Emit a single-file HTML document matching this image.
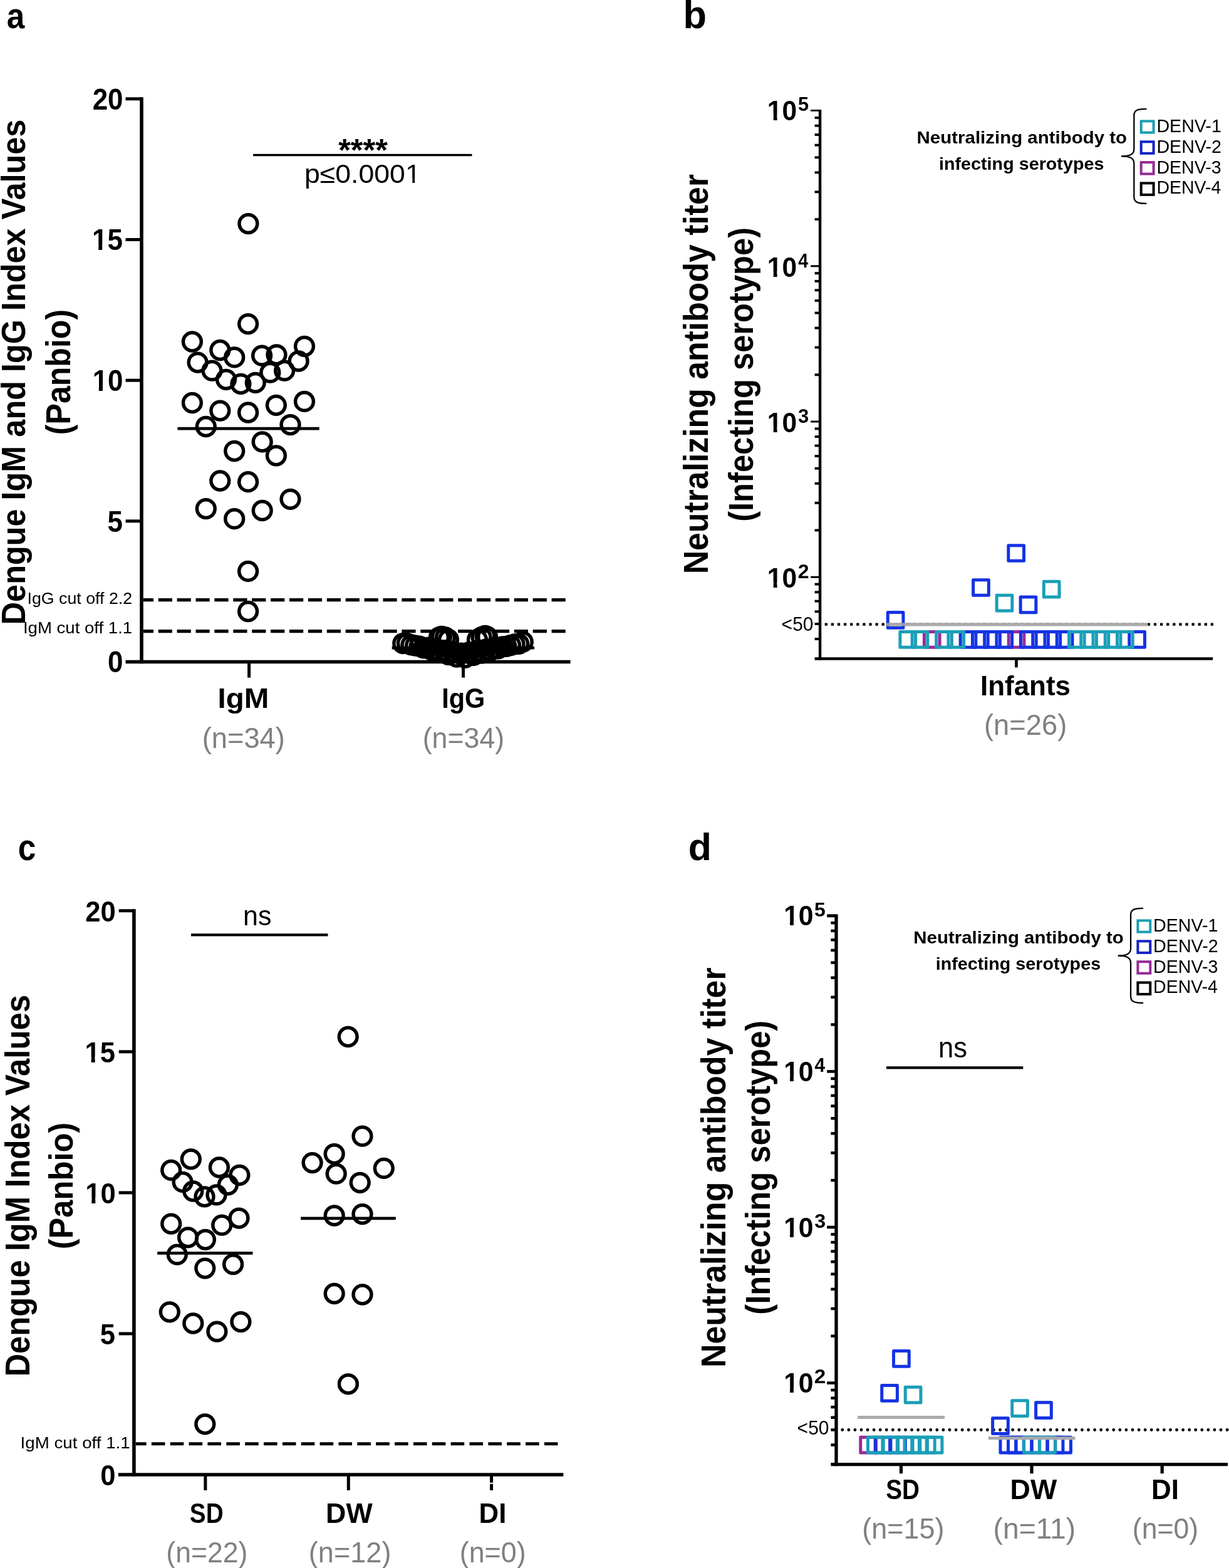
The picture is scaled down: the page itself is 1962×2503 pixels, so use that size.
<!DOCTYPE html>
<html lang="en">
<head>
<meta charset="utf-8">
<title>Dengue IgM, IgG index values and neutralizing antibody titers</title>
<style>
html, body { margin: 0; padding: 0; background: #fff; }
body { width: 1962px; height: 2503px; }
svg { display: block; }
svg text { font-family: "Liberation Sans", sans-serif; white-space: pre; }
</style>
</head>
<body>
<svg width="1962" height="2503" viewBox="0 0 1962 2503">
<rect width="1962" height="2503" fill="#fff"/>
<defs>
<clipPath id="one0"><rect x="-500" y="-500" width="3500" height="490.52"/><rect x="-500" y="-500" width="501.42" height="1000"/><rect x="11.02" y="-500" width="6.54" height="1000"/><rect x="26.54" y="-500" width="3000" height="1000"/></clipPath>
<clipPath id="one1"><rect x="-500" y="-500" width="3500" height="490.52"/><rect x="-500" y="-500" width="501.42" height="1000"/><rect x="11.02" y="-500" width="6.54" height="1000"/><rect x="26.54" y="-500" width="3000" height="1000"/></clipPath>
<clipPath id="one2"><rect x="-500" y="-500" width="3500" height="491.63"/><rect x="-500" y="-500" width="652.67" height="1000"/><rect x="161.57" y="-500" width="3.68" height="1000"/><rect x="173.60" y="-500" width="3000" height="1000"/></clipPath>
<clipPath id="one3"><rect x="-500" y="-500" width="3500" height="491.09"/><rect x="-500" y="-500" width="501.34" height="1000"/><rect x="10.36" y="-500" width="6.15" height="1000"/><rect x="24.96" y="-500" width="3000" height="1000"/></clipPath>
<clipPath id="one4"><rect x="-500" y="-500" width="3500" height="490.60"/><rect x="-500" y="-500" width="501.41" height="1000"/><rect x="10.93" y="-500" width="6.49" height="1000"/><rect x="26.32" y="-500" width="3000" height="1000"/></clipPath>
<clipPath id="one5"><rect x="-500" y="-500" width="3500" height="490.60"/><rect x="-500" y="-500" width="501.41" height="1000"/><rect x="10.93" y="-500" width="6.49" height="1000"/><rect x="26.32" y="-500" width="3000" height="1000"/></clipPath>
</defs>
<g id="panel-a">
<text transform="translate(10.76 45.40) scale(0.8998 1)" font-size="57.04" font-weight="bold">a</text>
<text transform="translate(40.10 997.28) rotate(-90) scale(0.9304 1)" font-size="54.20" font-weight="bold">Dengue IgM and IgG Index Values</text>
<text transform="translate(111.70 694.21) rotate(-90) scale(0.9026 1)" font-size="55.51" font-weight="bold">(Panbio)</text>
<line x1="226.00" y1="155.30" x2="226.00" y2="1059.30" stroke="#000" stroke-width="5.6"/>
<line x1="200.50" y1="1056.50" x2="910.60" y2="1056.50" stroke="#000" stroke-width="5.6"/>
<line x1="200.50" y1="831.83" x2="226.00" y2="831.83" stroke="#000" stroke-width="5"/>
<line x1="200.50" y1="607.15" x2="226.00" y2="607.15" stroke="#000" stroke-width="5"/>
<line x1="200.50" y1="382.48" x2="226.00" y2="382.48" stroke="#000" stroke-width="5"/>
<line x1="200.50" y1="157.80" x2="226.00" y2="157.80" stroke="#000" stroke-width="5"/>
<text transform="translate(172.05 1073.30) scale(0.9280 1)" font-size="47.40" font-weight="bold">0</text>
<text transform="translate(171.39 848.62) scale(0.9280 1)" font-size="47.40" font-weight="bold">5</text>
<text transform="translate(147.63 623.95) scale(0.9280 1)" font-size="47.40" font-weight="bold" clip-path="url(#one0)">10</text>
<text transform="translate(146.97 399.28) scale(0.9280 1)" font-size="47.40" font-weight="bold" clip-path="url(#one1)">15</text>
<text transform="translate(147.63 174.60) scale(0.9280 1)" font-size="47.40" font-weight="bold">20</text>
<line x1="397.60" y1="1056.50" x2="397.60" y2="1081.70" stroke="#000" stroke-width="5"/>
<line x1="739.60" y1="1056.50" x2="739.60" y2="1081.70" stroke="#000" stroke-width="5"/>
<line x1="229.00" y1="957.60" x2="903.00" y2="957.60" stroke="#000" stroke-width="5.1" stroke-dasharray="22.2 7.7" stroke-dashoffset="6.2"/>
<line x1="229.00" y1="1007.60" x2="903.00" y2="1007.60" stroke="#000" stroke-width="5.1" stroke-dasharray="22.2 7.7" stroke-dashoffset="6.2"/>
<text transform="translate(43.49 963.50) scale(1.0618 1)" font-size="25.22">IgG cut off 2.2</text>
<text transform="translate(36.92 1010.50) scale(1.0940 1)" font-size="25.22">IgM cut off 1.1</text>
<line x1="404.10" y1="247.50" x2="753.50" y2="247.50" stroke="#000" stroke-width="3.4"/>
<text transform="translate(540.15 256.51) scale(1.0184 1)" font-size="49.73" font-weight="bold">****</text>
<text transform="translate(486.00 292.40) scale(1.0661 1)" font-size="41.86" clip-path="url(#one2)">p≤0.0001</text>
<line x1="283.40" y1="684.20" x2="509.70" y2="684.20" stroke="#000" stroke-width="4.7"/>
<line x1="625.70" y1="1034.20" x2="853.00" y2="1034.20" stroke="#000" stroke-width="4.7"/>
<g fill="none" stroke="#000" stroke-width="5.5">
<circle cx="396.4" cy="357.1" r="14.4"/>
<circle cx="396.1" cy="517.1" r="14.4"/>
<circle cx="306.9" cy="545.5" r="14.4"/>
<circle cx="351.3" cy="559.0" r="14.4"/>
<circle cx="374.2" cy="570.4" r="14.4"/>
<circle cx="418.1" cy="567.7" r="14.4"/>
<circle cx="441.5" cy="566.3" r="14.4"/>
<circle cx="486.0" cy="552.8" r="14.4"/>
<circle cx="476.6" cy="576.5" r="14.4"/>
<circle cx="315.6" cy="578.6" r="14.4"/>
<circle cx="338.5" cy="591.7" r="14.4"/>
<circle cx="361.0" cy="605.8" r="14.4"/>
<circle cx="384.4" cy="612.8" r="14.4"/>
<circle cx="407.8" cy="610.8" r="14.4"/>
<circle cx="431.3" cy="594.7" r="14.4"/>
<circle cx="454.1" cy="591.7" r="14.4"/>
<circle cx="306.9" cy="643.0" r="14.4"/>
<circle cx="351.3" cy="655.6" r="14.4"/>
<circle cx="396.1" cy="658.5" r="14.4"/>
<circle cx="440.9" cy="646.8" r="14.4"/>
<circle cx="486.0" cy="640.9" r="14.4"/>
<circle cx="328.8" cy="681.0" r="14.4"/>
<circle cx="463.5" cy="678.1" r="14.4"/>
<circle cx="418.7" cy="705.3" r="14.4"/>
<circle cx="374.2" cy="720.0" r="14.4"/>
<circle cx="440.9" cy="727.3" r="14.4"/>
<circle cx="351.3" cy="767.5" r="14.4"/>
<circle cx="396.1" cy="769.2" r="14.4"/>
<circle cx="463.5" cy="796.8" r="14.4"/>
<circle cx="328.8" cy="812.1" r="14.4"/>
<circle cx="418.7" cy="815.0" r="14.4"/>
<circle cx="374.2" cy="828.2" r="14.4"/>
<circle cx="396.1" cy="911.9" r="14.4"/>
<circle cx="396.1" cy="976.0" r="14.4"/>
<path d="M668 1032 L737.5 1046 L810 1032" stroke-width="18" stroke-linecap="round" stroke-linejoin="round"/>
<circle cx="643.3" cy="1027.2" r="14.4"/>
<circle cx="649.9" cy="1027.1" r="14.4"/>
<circle cx="656.5" cy="1029.4" r="14.4"/>
<circle cx="663.1" cy="1030.7" r="14.4"/>
<circle cx="669.7" cy="1031.6" r="14.4"/>
<circle cx="676.3" cy="1034.3" r="14.4"/>
<circle cx="682.9" cy="1033.8" r="14.4"/>
<circle cx="689.5" cy="1037.9" r="14.4"/>
<circle cx="696.1" cy="1036.0" r="14.4"/>
<circle cx="702.7" cy="1041.5" r="14.4"/>
<circle cx="709.3" cy="1038.2" r="14.4"/>
<circle cx="715.9" cy="1045.1" r="14.4"/>
<circle cx="722.5" cy="1040.5" r="14.4"/>
<circle cx="729.1" cy="1048.7" r="14.4"/>
<circle cx="735.7" cy="1042.7" r="14.4"/>
<circle cx="742.4" cy="1049.8" r="14.4"/>
<circle cx="749.0" cy="1041.1" r="14.4"/>
<circle cx="755.6" cy="1046.2" r="14.4"/>
<circle cx="762.2" cy="1038.9" r="14.4"/>
<circle cx="768.8" cy="1042.6" r="14.4"/>
<circle cx="775.4" cy="1036.7" r="14.4"/>
<circle cx="782.0" cy="1039.0" r="14.4"/>
<circle cx="788.6" cy="1034.5" r="14.4"/>
<circle cx="795.2" cy="1035.4" r="14.4"/>
<circle cx="801.8" cy="1032.3" r="14.4"/>
<circle cx="808.4" cy="1031.8" r="14.4"/>
<circle cx="815.0" cy="1030.1" r="14.4"/>
<circle cx="821.6" cy="1028.3" r="14.4"/>
<circle cx="828.2" cy="1027.9" r="14.4"/>
<circle cx="834.8" cy="1024.7" r="14.4"/>
<circle cx="701.0" cy="1017.5" r="14.4"/>
<circle cx="705.0" cy="1016.0" r="14.4"/>
<circle cx="711.0" cy="1017.5" r="14.4"/>
<circle cx="716.0" cy="1021.0" r="14.4"/>
<circle cx="762.0" cy="1021.0" r="14.4"/>
<circle cx="768.5" cy="1017.0" r="14.4"/>
<circle cx="774.5" cy="1015.0" r="14.4"/>
<circle cx="778.0" cy="1016.5" r="14.4"/>
</g>
<text transform="translate(347.51 1130.10) scale(1.0569 1)" font-size="44.93" font-weight="bold">IgM</text>
<text transform="translate(705.20 1130.40) scale(0.9236 1)" font-size="44.93" font-weight="bold">IgG</text>
<text transform="translate(322.79 1193.60) scale(0.9801 1)" font-size="46.14" fill="#808080">(n=34)</text>
<text transform="translate(674.72 1193.60) scale(0.9692 1)" font-size="46.14" fill="#808080">(n=34)</text>
</g>
<g id="panel-b">
<text transform="translate(1090.51 44.50) scale(0.9781 1)" font-size="62.76" font-weight="bold">b</text>
<text transform="translate(1130.40 916.36) rotate(-90) scale(0.9400 1)" font-size="55.07" font-weight="bold">Neutralizing antibody titer</text>
<text transform="translate(1201.90 832.83) rotate(-90) scale(0.9198 1)" font-size="55.07" font-weight="bold">(Infecting serotype)</text>
<line x1="1309.10" y1="175.00" x2="1309.10" y2="1053.70" stroke="#000" stroke-width="4.4"/>
<line x1="1300.60" y1="1051.50" x2="1936.20" y2="1051.50" stroke="#000" stroke-width="4.4"/>
<line x1="1294.20" y1="921.20" x2="1309.10" y2="921.20" stroke="#000" stroke-width="3.0"/>
<text transform="translate(1224.83 938.00) scale(0.9555 1)" font-size="44.57" font-weight="bold" clip-path="url(#one3)">10</text>
<text transform="translate(1273.68 923.20) scale(1.0208 1)" font-size="31.43" font-weight="bold">2</text>
<line x1="1294.20" y1="673.00" x2="1309.10" y2="673.00" stroke="#000" stroke-width="3.0"/>
<text transform="translate(1224.83 689.80) scale(0.9555 1)" font-size="44.57" font-weight="bold" clip-path="url(#one3)">10</text>
<text transform="translate(1274.02 675.00) scale(0.9899 1)" font-size="31.43" font-weight="bold">3</text>
<line x1="1294.20" y1="424.80" x2="1309.10" y2="424.80" stroke="#000" stroke-width="3.0"/>
<text transform="translate(1224.83 441.70) scale(0.9555 1)" font-size="44.57" font-weight="bold" clip-path="url(#one3)">10</text>
<text transform="translate(1274.37 426.90) scale(0.9028 1)" font-size="31.88" font-weight="bold">4</text>
<rect x="1294.20" y="175.00" width="14.90" height="2.80"/>
<text transform="translate(1224.83 191.80) scale(0.9555 1)" font-size="44.57" font-weight="bold" clip-path="url(#one3)">10</text>
<text transform="translate(1273.88 177.00) scale(0.9660 1)" font-size="31.88" font-weight="bold">5</text>
<line x1="1300.60" y1="1019.97" x2="1309.10" y2="1019.97" stroke="#000" stroke-width="3.9"/>
<line x1="1300.60" y1="995.92" x2="1309.10" y2="995.92" stroke="#000" stroke-width="3.9"/>
<line x1="1300.60" y1="976.26" x2="1309.10" y2="976.26" stroke="#000" stroke-width="3.9"/>
<line x1="1300.60" y1="959.65" x2="1309.10" y2="959.65" stroke="#000" stroke-width="3.9"/>
<line x1="1300.60" y1="945.25" x2="1309.10" y2="945.25" stroke="#000" stroke-width="3.9"/>
<line x1="1300.60" y1="932.56" x2="1309.10" y2="932.56" stroke="#000" stroke-width="3.9"/>
<line x1="1300.60" y1="846.48" x2="1309.10" y2="846.48" stroke="#000" stroke-width="3.9"/>
<line x1="1300.60" y1="802.78" x2="1309.10" y2="802.78" stroke="#000" stroke-width="3.9"/>
<line x1="1300.60" y1="771.77" x2="1309.10" y2="771.77" stroke="#000" stroke-width="3.9"/>
<line x1="1300.60" y1="747.72" x2="1309.10" y2="747.72" stroke="#000" stroke-width="3.9"/>
<line x1="1300.60" y1="728.06" x2="1309.10" y2="728.06" stroke="#000" stroke-width="3.9"/>
<line x1="1300.60" y1="711.45" x2="1309.10" y2="711.45" stroke="#000" stroke-width="3.9"/>
<line x1="1300.60" y1="697.05" x2="1309.10" y2="697.05" stroke="#000" stroke-width="3.9"/>
<line x1="1300.60" y1="684.36" x2="1309.10" y2="684.36" stroke="#000" stroke-width="3.9"/>
<line x1="1300.60" y1="598.28" x2="1309.10" y2="598.28" stroke="#000" stroke-width="3.9"/>
<line x1="1300.60" y1="554.58" x2="1309.10" y2="554.58" stroke="#000" stroke-width="3.9"/>
<line x1="1300.60" y1="523.57" x2="1309.10" y2="523.57" stroke="#000" stroke-width="3.9"/>
<line x1="1300.60" y1="499.52" x2="1309.10" y2="499.52" stroke="#000" stroke-width="3.9"/>
<line x1="1300.60" y1="479.86" x2="1309.10" y2="479.86" stroke="#000" stroke-width="3.9"/>
<line x1="1300.60" y1="463.25" x2="1309.10" y2="463.25" stroke="#000" stroke-width="3.9"/>
<line x1="1300.60" y1="448.85" x2="1309.10" y2="448.85" stroke="#000" stroke-width="3.9"/>
<line x1="1300.60" y1="436.16" x2="1309.10" y2="436.16" stroke="#000" stroke-width="3.9"/>
<line x1="1300.60" y1="350.08" x2="1309.10" y2="350.08" stroke="#000" stroke-width="3.9"/>
<line x1="1300.60" y1="306.38" x2="1309.10" y2="306.38" stroke="#000" stroke-width="3.9"/>
<line x1="1300.60" y1="275.37" x2="1309.10" y2="275.37" stroke="#000" stroke-width="3.9"/>
<line x1="1300.60" y1="251.32" x2="1309.10" y2="251.32" stroke="#000" stroke-width="3.9"/>
<line x1="1300.60" y1="231.66" x2="1309.10" y2="231.66" stroke="#000" stroke-width="3.9"/>
<line x1="1300.60" y1="215.05" x2="1309.10" y2="215.05" stroke="#000" stroke-width="3.9"/>
<line x1="1300.60" y1="200.65" x2="1309.10" y2="200.65" stroke="#000" stroke-width="3.9"/>
<line x1="1300.60" y1="187.96" x2="1309.10" y2="187.96" stroke="#000" stroke-width="3.9"/>
<line x1="1622.50" y1="1051.50" x2="1622.50" y2="1065.40" stroke="#000" stroke-width="4.6"/>
<text transform="translate(1247.60 1007.00) scale(0.9869 1)" font-size="30.43">&lt;50</text>
<line x1="1316.70" y1="996.60" x2="1937.00" y2="996.60" stroke="#000" stroke-width="4.2" stroke-dasharray="4.3 5.8"/>
<g fill="none" stroke-width="5.0" stroke-linejoin="round">
<rect x="1475.42" y="1008.45" width="24.70" height="24.70" stroke="#9a2a9c"/>
<rect x="1610.22" y="1008.45" width="24.70" height="24.70" stroke="#9a2a9c"/>
<rect x="1533.19" y="1008.45" width="24.70" height="24.70" stroke="#1533e2"/>
<rect x="1552.45" y="1008.45" width="24.70" height="24.70" stroke="#1533e2"/>
<rect x="1571.71" y="1008.45" width="24.70" height="24.70" stroke="#1533e2"/>
<rect x="1590.96" y="1008.45" width="24.70" height="24.70" stroke="#1533e2"/>
<rect x="1629.48" y="1008.45" width="24.70" height="24.70" stroke="#1533e2"/>
<rect x="1648.74" y="1008.45" width="24.70" height="24.70" stroke="#1533e2"/>
<rect x="1667.99" y="1008.45" width="24.70" height="24.70" stroke="#1533e2"/>
<rect x="1687.25" y="1008.45" width="24.70" height="24.70" stroke="#1533e2"/>
<rect x="1802.80" y="1008.45" width="24.70" height="24.70" stroke="#1533e2"/>
<rect x="1436.90" y="1008.45" width="24.70" height="24.70" stroke="#1a9fb8"/>
<rect x="1456.16" y="1008.45" width="24.70" height="24.70" stroke="#1a9fb8"/>
<rect x="1494.67" y="1008.45" width="24.70" height="24.70" stroke="#1a9fb8"/>
<rect x="1513.93" y="1008.45" width="24.70" height="24.70" stroke="#1a9fb8"/>
<rect x="1706.51" y="1008.45" width="24.70" height="24.70" stroke="#1a9fb8"/>
<rect x="1725.77" y="1008.45" width="24.70" height="24.70" stroke="#1a9fb8"/>
<rect x="1745.03" y="1008.45" width="24.70" height="24.70" stroke="#1a9fb8"/>
<rect x="1764.28" y="1008.45" width="24.70" height="24.70" stroke="#1a9fb8"/>
<rect x="1783.54" y="1008.45" width="24.70" height="24.70" stroke="#1a9fb8"/>
</g>
<line x1="1414.60" y1="996.90" x2="1832.30" y2="996.90" stroke="#aaaaaa" stroke-width="5.2"/>
<g fill="none" stroke-width="5.0" stroke-linejoin="round">
<rect x="1609.85" y="870.65" width="24.70" height="24.70" stroke="#1533e2"/>
<rect x="1553.65" y="925.65" width="24.70" height="24.70" stroke="#1533e2"/>
<rect x="1591.15" y="950.35" width="24.70" height="24.70" stroke="#1a9fb8"/>
<rect x="1629.15" y="952.95" width="24.70" height="24.70" stroke="#1533e2"/>
<rect x="1666.35" y="928.35" width="24.70" height="24.70" stroke="#1a9fb8"/>
</g>
<g fill="none" stroke-width="5.0" stroke-linejoin="round"><rect x="1417.25" y="977.55" width="24.70" height="24.70" stroke="#1533e2"/></g>
<line x1="1414.60" y1="996.90" x2="1446.00" y2="996.90" stroke="#aaaaaa" stroke-width="5.2" opacity="0.85"/>
<text transform="translate(1564.94 1110.10) scale(0.9788 1)" font-size="44.93" font-weight="bold">Infants</text>
<text transform="translate(1570.98 1172.70) scale(0.9824 1)" font-size="46.14" fill="#808080">(n=26)</text>
<g transform="translate(0.0 0.0)">
<text transform="translate(1463.58 228.80) scale(1.0479 1)" font-size="28.12" font-weight="bold">Neutralizing antibody to</text>
<text transform="translate(1498.99 270.70) scale(1.0220 1)" font-size="28.12" font-weight="bold">infecting serotypes</text>
</g>
<g transform="translate(0.0 0.0)">
<path d="M1830.4 173.8 C1818 173.8 1810.4 175 1810.4 184 L1810.4 238 C1810.4 247 1803 249.4 1790 249.4 C1803 249.4 1810.4 252 1810.4 261 L1810.4 314.6 C1810.4 323.6 1818 324.9 1830.4 324.9" fill="none" stroke="#000" stroke-width="2.3"/>
<rect x="1821.70" y="193.40" width="19.90" height="18.20" fill="none" stroke="#1b9db3" stroke-width="4.0"/>
<text transform="translate(1846.41 211.00) scale(0.9546 1)" font-size="30.00">DENV-1</text>
<rect x="1821.70" y="226.30" width="19.90" height="18.50" fill="none" stroke="#1322c4" stroke-width="4.0"/>
<text transform="translate(1846.41 244.00) scale(0.9559 1)" font-size="30.00">DENV-2</text>
<rect x="1821.70" y="259.10" width="19.90" height="18.50" fill="none" stroke="#942b96" stroke-width="4.0"/>
<text transform="translate(1846.41 277.30) scale(0.9532 1)" font-size="30.00">DENV-3</text>
<rect x="1821.70" y="292.40" width="19.90" height="18.50" fill="none" stroke="#000" stroke-width="4.0"/>
<text transform="translate(1846.42 309.10) scale(0.9491 1)" font-size="30.00">DENV-4</text>
</g>
</g>
<g id="panel-c">
<text transform="translate(28.65 1373.20) scale(0.8773 1)" font-size="58.52" font-weight="bold">c</text>
<text transform="translate(47.20 2197.60) rotate(-90) scale(0.9222 1)" font-size="55.07" font-weight="bold">Dengue IgM Index Values</text>
<text transform="translate(116.30 1994.33) rotate(-90) scale(0.9449 1)" font-size="53.62" font-weight="bold">(Panbio)</text>
<line x1="213.90" y1="1451.30" x2="213.90" y2="2356.80" stroke="#000" stroke-width="5.6"/>
<line x1="188.80" y1="2354.00" x2="899.40" y2="2354.00" stroke="#000" stroke-width="5.6"/>
<line x1="189.70" y1="2128.95" x2="213.90" y2="2128.95" stroke="#000" stroke-width="5"/>
<line x1="189.70" y1="1903.90" x2="213.90" y2="1903.90" stroke="#000" stroke-width="5"/>
<line x1="189.70" y1="1678.85" x2="213.90" y2="1678.85" stroke="#000" stroke-width="5"/>
<line x1="189.70" y1="1453.80" x2="213.90" y2="1453.80" stroke="#000" stroke-width="5"/>
<text transform="translate(160.34 2370.90) scale(0.9280 1)" font-size="47.00" font-weight="bold">0</text>
<text transform="translate(159.68 2145.85) scale(0.9280 1)" font-size="47.00" font-weight="bold">5</text>
<text transform="translate(136.13 1920.80) scale(0.9280 1)" font-size="47.00" font-weight="bold" clip-path="url(#one4)">10</text>
<text transform="translate(135.48 1695.75) scale(0.9280 1)" font-size="47.00" font-weight="bold" clip-path="url(#one5)">15</text>
<text transform="translate(136.13 1470.70) scale(0.9280 1)" font-size="47.00" font-weight="bold">20</text>
<line x1="327.90" y1="2354.00" x2="327.90" y2="2379.00" stroke="#000" stroke-width="5"/>
<line x1="556.30" y1="2354.00" x2="556.30" y2="2379.00" stroke="#000" stroke-width="5"/>
<line x1="784.60" y1="2354.00" x2="784.60" y2="2379.00" stroke="#000" stroke-width="5"/>
<rect x="781.5" y="2366.6" width="6.2" height="2.4" fill="#fff" opacity="0.85"/>
<line x1="216.90" y1="2304.80" x2="891.20" y2="2304.80" stroke="#000" stroke-width="5.1" stroke-dasharray="21.6 8.26" stroke-dashoffset="4.9"/>
<text transform="translate(32.61 2311.60) scale(1.0509 1)" font-size="26.38">IgM cut off 1.1</text>
<line x1="305.00" y1="1492.30" x2="523.50" y2="1492.30" stroke="#000" stroke-width="4.2"/>
<text transform="translate(388.01 1476.50) scale(0.9540 1)" font-size="45.00">ns</text>
<line x1="251.20" y1="2000.40" x2="403.50" y2="2000.40" stroke="#000" stroke-width="4.7"/>
<line x1="480.20" y1="1944.80" x2="631.80" y2="1944.80" stroke="#000" stroke-width="4.7"/>
<g fill="none" stroke="#000" stroke-width="5.5">
<circle cx="304.8" cy="1850.3" r="14.4"/>
<circle cx="273.2" cy="1867.9" r="14.4"/>
<circle cx="349.9" cy="1863.5" r="14.4"/>
<circle cx="382.4" cy="1875.8" r="14.4"/>
<circle cx="291.6" cy="1886.9" r="14.4"/>
<circle cx="363.9" cy="1891.3" r="14.4"/>
<circle cx="308.3" cy="1901.5" r="14.4"/>
<circle cx="326.5" cy="1910.3" r="14.4"/>
<circle cx="345.5" cy="1907.4" r="14.4"/>
<circle cx="273.2" cy="1953.6" r="14.4"/>
<circle cx="381.5" cy="1944.6" r="14.4"/>
<circle cx="354.2" cy="1955.7" r="14.4"/>
<circle cx="300.1" cy="1975.3" r="14.4"/>
<circle cx="327.9" cy="1978.8" r="14.4"/>
<circle cx="282.8" cy="2002.7" r="14.4"/>
<circle cx="327.3" cy="2024.6" r="14.4"/>
<circle cx="372.1" cy="2018.2" r="14.4"/>
<circle cx="270.8" cy="2094.3" r="14.4"/>
<circle cx="308.3" cy="2112.5" r="14.4"/>
<circle cx="346.4" cy="2125.6" r="14.4"/>
<circle cx="384.4" cy="2110.1" r="14.4"/>
<circle cx="327.3" cy="2273.3" r="14.4"/>
<circle cx="555.7" cy="1655.0" r="14.4"/>
<circle cx="578.5" cy="1813.7" r="14.4"/>
<circle cx="533.7" cy="1842.1" r="14.4"/>
<circle cx="498.6" cy="1856.1" r="14.4"/>
<circle cx="612.8" cy="1864.9" r="14.4"/>
<circle cx="536.7" cy="1873.7" r="14.4"/>
<circle cx="574.7" cy="1887.8" r="14.4"/>
<circle cx="533.7" cy="1940.5" r="14.4"/>
<circle cx="578.5" cy="1938.1" r="14.4"/>
<circle cx="533.7" cy="2065.0" r="14.4"/>
<circle cx="578.5" cy="2066.5" r="14.4"/>
<circle cx="555.9" cy="2209.3" r="14.4"/>
</g>
<text transform="translate(302.84 2431.20) scale(0.8615 1)" font-size="44.93" font-weight="bold">SD</text>
<text transform="translate(520.09 2431.20) scale(0.9974 1)" font-size="44.93" font-weight="bold">DW</text>
<text transform="translate(764.55 2431.20) scale(0.9747 1)" font-size="44.93" font-weight="bold">DI</text>
<text transform="translate(265.33 2494.20) scale(0.9661 1)" font-size="46.14" fill="#808080">(n=22)</text>
<text transform="translate(492.79 2494.20) scale(0.9778 1)" font-size="46.14" fill="#808080">(n=12)</text>
<text transform="translate(733.71 2494.20) scale(0.9714 1)" font-size="46.14" fill="#808080">(n=0)</text>
</g>
<g id="panel-d">
<text transform="translate(1098.76 1373.20) scale(0.9870 1)" font-size="61.79" font-weight="bold">d</text>
<text transform="translate(1157.50 2182.97) rotate(-90) scale(0.9403 1)" font-size="55.07" font-weight="bold">Neutralizing antibody titer</text>
<text transform="translate(1228.80 2098.63) rotate(-90) scale(0.9198 1)" font-size="55.07" font-weight="bold">(Infecting serotype)</text>
<line x1="1335.00" y1="1459.40" x2="1335.00" y2="2340.35" stroke="#000" stroke-width="5.3"/>
<line x1="1326.40" y1="2337.70" x2="1960.00" y2="2337.70" stroke="#000" stroke-width="5.3"/>
<line x1="1320.20" y1="2207.60" x2="1335.00" y2="2207.60" stroke="#000" stroke-width="4.6"/>
<text transform="translate(1251.13 2223.10) scale(0.9577 1)" font-size="44.57" font-weight="bold" clip-path="url(#one3)">10</text>
<text transform="translate(1299.83 2208.30) scale(1.0606 1)" font-size="31.43" font-weight="bold">2</text>
<line x1="1320.20" y1="1959.00" x2="1335.00" y2="1959.00" stroke="#000" stroke-width="4.6"/>
<text transform="translate(1251.13 1974.50) scale(0.9577 1)" font-size="44.57" font-weight="bold" clip-path="url(#one3)">10</text>
<text transform="translate(1300.19 1959.70) scale(1.0285 1)" font-size="31.43" font-weight="bold">3</text>
<line x1="1320.20" y1="1710.40" x2="1335.00" y2="1710.40" stroke="#000" stroke-width="4.6"/>
<text transform="translate(1251.13 1725.90) scale(0.9577 1)" font-size="44.57" font-weight="bold" clip-path="url(#one3)">10</text>
<text transform="translate(1300.55 1711.10) scale(0.9380 1)" font-size="31.88" font-weight="bold">4</text>
<rect x="1320.20" y="1459.40" width="14.80" height="4.90"/>
<text transform="translate(1251.13 1477.30) scale(0.9577 1)" font-size="44.57" font-weight="bold" clip-path="url(#one3)">10</text>
<text transform="translate(1300.04 1462.50) scale(1.0036 1)" font-size="31.88" font-weight="bold">5</text>
<line x1="1326.40" y1="2306.53" x2="1335.00" y2="2306.53" stroke="#000" stroke-width="4.5"/>
<line x1="1326.40" y1="2282.44" x2="1335.00" y2="2282.44" stroke="#000" stroke-width="4.5"/>
<line x1="1326.40" y1="2262.75" x2="1335.00" y2="2262.75" stroke="#000" stroke-width="4.5"/>
<line x1="1326.40" y1="2246.11" x2="1335.00" y2="2246.11" stroke="#000" stroke-width="4.5"/>
<line x1="1326.40" y1="2231.69" x2="1335.00" y2="2231.69" stroke="#000" stroke-width="4.5"/>
<line x1="1326.40" y1="2218.98" x2="1335.00" y2="2218.98" stroke="#000" stroke-width="4.5"/>
<line x1="1326.40" y1="2132.76" x2="1335.00" y2="2132.76" stroke="#000" stroke-width="4.5"/>
<line x1="1326.40" y1="2088.99" x2="1335.00" y2="2088.99" stroke="#000" stroke-width="4.5"/>
<line x1="1326.40" y1="2057.93" x2="1335.00" y2="2057.93" stroke="#000" stroke-width="4.5"/>
<line x1="1326.40" y1="2033.84" x2="1335.00" y2="2033.84" stroke="#000" stroke-width="4.5"/>
<line x1="1326.40" y1="2014.15" x2="1335.00" y2="2014.15" stroke="#000" stroke-width="4.5"/>
<line x1="1326.40" y1="1997.51" x2="1335.00" y2="1997.51" stroke="#000" stroke-width="4.5"/>
<line x1="1326.40" y1="1983.09" x2="1335.00" y2="1983.09" stroke="#000" stroke-width="4.5"/>
<line x1="1326.40" y1="1970.38" x2="1335.00" y2="1970.38" stroke="#000" stroke-width="4.5"/>
<line x1="1326.40" y1="1884.16" x2="1335.00" y2="1884.16" stroke="#000" stroke-width="4.5"/>
<line x1="1326.40" y1="1840.39" x2="1335.00" y2="1840.39" stroke="#000" stroke-width="4.5"/>
<line x1="1326.40" y1="1809.33" x2="1335.00" y2="1809.33" stroke="#000" stroke-width="4.5"/>
<line x1="1326.40" y1="1785.24" x2="1335.00" y2="1785.24" stroke="#000" stroke-width="4.5"/>
<line x1="1326.40" y1="1765.55" x2="1335.00" y2="1765.55" stroke="#000" stroke-width="4.5"/>
<line x1="1326.40" y1="1748.91" x2="1335.00" y2="1748.91" stroke="#000" stroke-width="4.5"/>
<line x1="1326.40" y1="1734.49" x2="1335.00" y2="1734.49" stroke="#000" stroke-width="4.5"/>
<line x1="1326.40" y1="1721.78" x2="1335.00" y2="1721.78" stroke="#000" stroke-width="4.5"/>
<line x1="1326.40" y1="1635.56" x2="1335.00" y2="1635.56" stroke="#000" stroke-width="4.5"/>
<line x1="1326.40" y1="1591.79" x2="1335.00" y2="1591.79" stroke="#000" stroke-width="4.5"/>
<line x1="1326.40" y1="1560.73" x2="1335.00" y2="1560.73" stroke="#000" stroke-width="4.5"/>
<line x1="1326.40" y1="1536.64" x2="1335.00" y2="1536.64" stroke="#000" stroke-width="4.5"/>
<line x1="1326.40" y1="1516.95" x2="1335.00" y2="1516.95" stroke="#000" stroke-width="4.5"/>
<line x1="1326.40" y1="1500.31" x2="1335.00" y2="1500.31" stroke="#000" stroke-width="4.5"/>
<line x1="1326.40" y1="1485.89" x2="1335.00" y2="1485.89" stroke="#000" stroke-width="4.5"/>
<line x1="1326.40" y1="1473.18" x2="1335.00" y2="1473.18" stroke="#000" stroke-width="4.5"/>
<line x1="1438.50" y1="2337.70" x2="1438.50" y2="2352.20" stroke="#000" stroke-width="5.2"/>
<line x1="1647.00" y1="2337.70" x2="1647.00" y2="2352.20" stroke="#000" stroke-width="5.2"/>
<line x1="1855.20" y1="2337.70" x2="1855.20" y2="2352.20" stroke="#000" stroke-width="5.2"/>
<text transform="translate(1272.60 2289.70) scale(0.9823 1)" font-size="30.57">&lt;50</text>
<line x1="1344.80" y1="2282.50" x2="1962.00" y2="2282.50" stroke="#000" stroke-width="4.9" stroke-dasharray="0.01 10.06" stroke-linecap="round"/>
<line x1="1415.00" y1="1704.30" x2="1633.30" y2="1704.30" stroke="#000" stroke-width="4.2"/>
<text transform="translate(1498.07 1688.30) scale(0.9562 1)" font-size="45.56">ns</text>
<g fill="none" stroke-width="5.0" stroke-linejoin="round">
<rect x="1373.80" y="2294.35" width="24.70" height="24.70" stroke="#9a2a9c"/>
<rect x="1397.22" y="2294.35" width="24.70" height="24.70" stroke="#1533e2"/>
<rect x="1420.64" y="2294.35" width="24.70" height="24.70" stroke="#1533e2"/>
<rect x="1385.51" y="2294.35" width="24.70" height="24.70" stroke="#1a9fb8"/>
<rect x="1408.93" y="2294.35" width="24.70" height="24.70" stroke="#1a9fb8"/>
<rect x="1432.36" y="2294.35" width="24.70" height="24.70" stroke="#1a9fb8"/>
<rect x="1444.07" y="2294.35" width="24.70" height="24.70" stroke="#1a9fb8"/>
<rect x="1455.78" y="2294.35" width="24.70" height="24.70" stroke="#1a9fb8"/>
<rect x="1467.49" y="2294.35" width="24.70" height="24.70" stroke="#1a9fb8"/>
<rect x="1479.20" y="2294.35" width="24.70" height="24.70" stroke="#1a9fb8"/>
<rect x="1597.00" y="2294.35" width="24.70" height="24.70" stroke="#1533e2"/>
<rect x="1609.54" y="2294.35" width="24.70" height="24.70" stroke="#1533e2"/>
<rect x="1622.09" y="2294.35" width="24.70" height="24.70" stroke="#1533e2"/>
<rect x="1647.17" y="2294.35" width="24.70" height="24.70" stroke="#1533e2"/>
<rect x="1672.26" y="2294.35" width="24.70" height="24.70" stroke="#1533e2"/>
<rect x="1684.80" y="2294.35" width="24.70" height="24.70" stroke="#1533e2"/>
<rect x="1634.63" y="2294.35" width="24.70" height="24.70" stroke="#1a9fb8"/>
<rect x="1659.71" y="2294.35" width="24.70" height="24.70" stroke="#1a9fb8"/>
<rect x="1426.55" y="2156.45" width="24.70" height="24.70" stroke="#1533e2"/>
<rect x="1407.75" y="2211.45" width="24.70" height="24.70" stroke="#1533e2"/>
<rect x="1445.25" y="2214.25" width="24.70" height="24.70" stroke="#1a9fb8"/>
<rect x="1615.75" y="2235.75" width="24.70" height="24.70" stroke="#1a9fb8"/>
<rect x="1653.65" y="2238.85" width="24.70" height="24.70" stroke="#1533e2"/>
<rect x="1584.65" y="2263.85" width="24.70" height="24.70" stroke="#1533e2"/>
</g>
<line x1="1369.20" y1="2262.50" x2="1508.10" y2="2262.50" stroke="#aaaaaa" stroke-width="5"/>
<line x1="1577.90" y1="2295.80" x2="1716.50" y2="2295.80" stroke="#aaaaaa" stroke-width="5"/>
<text transform="translate(1414.24 2392.70) scale(0.8632 1)" font-size="44.93" font-weight="bold">SD</text>
<text transform="translate(1612.59 2392.70) scale(0.9974 1)" font-size="44.93" font-weight="bold">DW</text>
<text transform="translate(1838.04 2392.70) scale(0.9799 1)" font-size="44.93" font-weight="bold">DI</text>
<text transform="translate(1376.20 2455.80) scale(0.9754 1)" font-size="46.14" fill="#808080">(n=15)</text>
<text transform="translate(1585.52 2455.80) scale(1.0023 1)" font-size="46.14" fill="#808080">(n=11)</text>
<text transform="translate(1807.83 2455.80) scale(0.9656 1)" font-size="46.14" fill="#808080">(n=0)</text>
<g transform="translate(-5.3 1277.5)">
<text transform="translate(1463.58 228.80) scale(1.0479 1)" font-size="28.12" font-weight="bold">Neutralizing antibody to</text>
<text transform="translate(1498.99 270.70) scale(1.0220 1)" font-size="28.12" font-weight="bold">infecting serotypes</text>
</g>
<g transform="translate(-5.3 1276.1)">
<path d="M1830.4 173.8 C1818 173.8 1810.4 175 1810.4 184 L1810.4 238 C1810.4 247 1803 249.4 1790 249.4 C1803 249.4 1810.4 252 1810.4 261 L1810.4 314.6 C1810.4 323.6 1818 324.9 1830.4 324.9" fill="none" stroke="#000" stroke-width="2.3"/>
<rect x="1821.70" y="193.40" width="19.90" height="18.20" fill="none" stroke="#1b9db3" stroke-width="4.0"/>
<text transform="translate(1846.41 211.00) scale(0.9546 1)" font-size="30.00">DENV-1</text>
<rect x="1821.70" y="226.30" width="19.90" height="18.50" fill="none" stroke="#1322c4" stroke-width="4.0"/>
<text transform="translate(1846.41 244.00) scale(0.9559 1)" font-size="30.00">DENV-2</text>
<rect x="1821.70" y="259.10" width="19.90" height="18.50" fill="none" stroke="#942b96" stroke-width="4.0"/>
<text transform="translate(1846.41 277.30) scale(0.9532 1)" font-size="30.00">DENV-3</text>
<rect x="1821.70" y="292.40" width="19.90" height="18.50" fill="none" stroke="#000" stroke-width="4.0"/>
<text transform="translate(1846.42 309.10) scale(0.9491 1)" font-size="30.00">DENV-4</text>
</g>
</g>
</svg>
</body>
</html>
